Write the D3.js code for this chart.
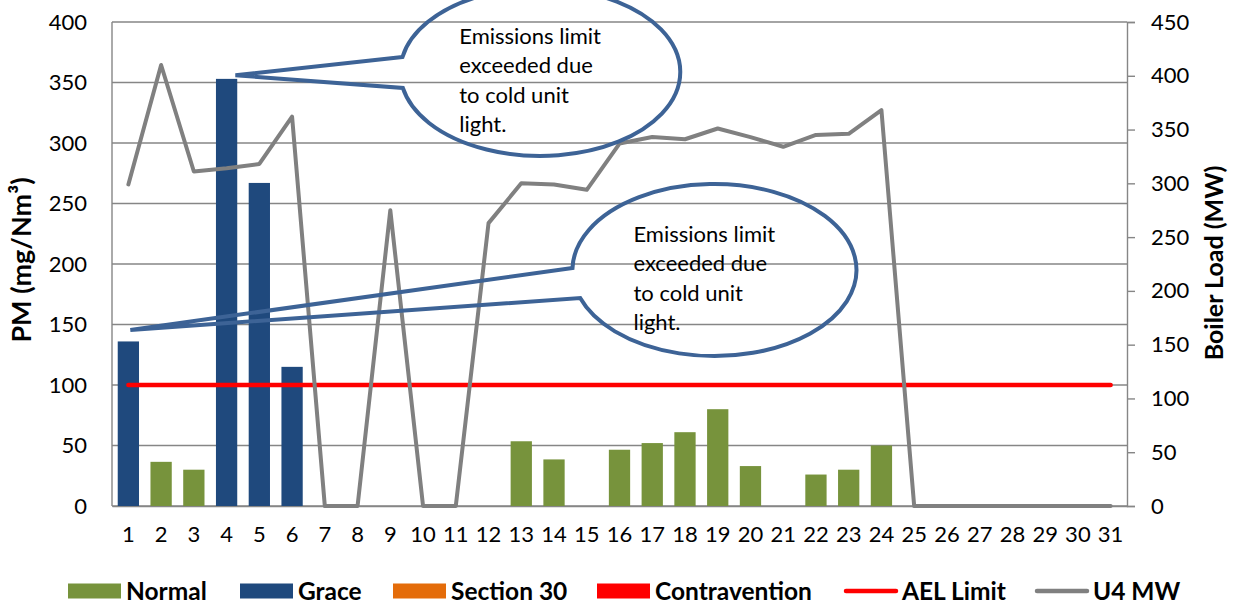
<!DOCTYPE html>
<html>
<head>
<meta charset="utf-8">
<script src="https://cdn.jsdelivr.net/npm/d3@7"></script>
<style>
  body { margin: 0; background: #fff; }
  svg { display: block; font-family: Lato, "Open Sans", sans-serif; }
</style>
</head>
<body>
<svg width="1241" height="605"></svg>
<script>
// ---- data ----
var days = d3.range(1, 32).map(String);
var normal = [0, 36.5, 30, 0, 0, 0, 0, 0, 0, 0, 0, 0, 53.5, 38.5, 0, 46.5, 52, 61, 80, 33, 0, 26, 30, 50, 0, 0, 0, 0, 0, 0, 0];
var grace = [136, 0, 0, 353, 267, 115, 0, 0, 0, 0, 0, 0, 0, 0, 0, 0, 0, 0, 0, 0, 0, 0, 0, 0, 0, 0, 0, 0, 0, 0, 0];
var section30 = days.map(function() { return 0; });
var contravention = days.map(function() { return 0; });
var aelLimit = days.map(function() { return 100; });
var u4mw = [299, 410, 311, 314, 318, 362, 0, 0, 275, 0, 0, 263, 300, 299, 294, 337, 343, 341, 351, 343, 334, 345, 346, 368, 0, 0, 0, 0, 0, 0, 0];
var pmTicks = d3.range(0, 401, 50);
var mwTicks = d3.range(0, 451, 50);
var calloutText = ["Emissions limit", "exceeded due", "to cold unit", "light."];
// callouts: tip + ellipse centre in data units (day, PM)
var callouts = [
  {tip: [4.27, 356], centre: [13.58, 358.7], rx: 140, ry: 84, dy1: -15, dy2: 16},
  {tip: [1.06, 145.5], centre: [18.9, 195], rx: 142, ry: 86, dy1: -2, dy2: 28}
];
var legendItems = [
  {name: "Normal", color: "#77933c", type: "rect", x: 68},
  {name: "Grace", color: "#1f497d", type: "rect", x: 240},
  {name: "Section 30", color: "#e46c0a", type: "rect", x: 393},
  {name: "Contravention", color: "#ff0000", type: "rect", x: 597},
  {name: "AEL Limit", color: "#ff0000", type: "line", x: 844},
  {name: "U4 MW", color: "#808080", type: "line", x: 1035}
];

var svg = d3.select("svg"),
    margin = {top: 22, right: 114, bottom: 99, left: 112},
    width = +svg.attr("width") - margin.left - margin.right,
    height = +svg.attr("height") - margin.top - margin.bottom;

svg.append("rect").attr("width", 1241).attr("height", 605).attr("fill", "#fff");

var g = svg.append("g")
    .attr("transform", "translate(" + margin.left + "," + margin.top + ")");

var xScale = d3.scaleBand().domain(days).range([0, width]).paddingInner(0.35).paddingOuter(0.175);
var half = xScale.bandwidth() / 2;
var xLin = d3.scaleLinear().domain([1, 31])
    .range([xScale("1") + half, xScale("31") + half]);
var yPM = d3.scaleLinear().domain([0, 400]).range([height, 0]);
var yMW = d3.scaleLinear().domain([0, 450]).range([height, 0]);

var gridColor = "#868686";

// gridlines
g.selectAll(".grid")
  .data(pmTicks)
  .enter().append("line")
    .attr("x1", 0).attr("x2", width)
    .attr("y1", function(d) { return yPM(d); })
    .attr("y2", function(d) { return yPM(d); })
    .attr("stroke", gridColor).attr("stroke-width", 1.4);

// left border
g.append("line").attr("x1", 0).attr("x2", 0).attr("y1", 0).attr("y2", height)
  .attr("stroke", gridColor).attr("stroke-width", 1.4);

// left axis
var yAxisL = g.append("g")
    .call(d3.axisLeft(yPM).tickValues(pmTicks).tickSize(0).tickPadding(25));
yAxisL.select(".domain").remove();

// right axis
var yAxisR = g.append("g")
    .attr("transform", "translate(" + width + ",0)")
    .call(d3.axisRight(yMW).tickValues(mwTicks).tickSize(8).tickPadding(16));
yAxisR.select(".domain").attr("stroke", gridColor).attr("stroke-width", 1.4);
yAxisR.selectAll(".tick line").attr("stroke", gridColor).attr("stroke-width", 1.4);

// x axis
var xAxis = g.append("g")
    .attr("transform", "translate(0," + height + ")")
    .call(d3.axisBottom(xScale).tickSize(0).tickPadding(20));
xAxis.select(".domain").attr("stroke", gridColor).attr("stroke-width", 1.4);

svg.selectAll(".tick text")
    .attr("font-family", "Lato, sans-serif")
    .attr("font-size", 22)
    .attr("fill", "#000");

// bars
function drawBars(values, color) {
  g.selectAll(null)
    .data(values.map(function(v, i) { return {day: days[i], v: v}; }).filter(function(d) { return d.v > 0; }))
    .enter().append("rect")
      .attr("x", function(d) { return xScale(d.day); })
      .attr("width", xScale.bandwidth())
      .attr("y", function(d) { return yPM(d.v); })
      .attr("height", function(d) { return height - yPM(d.v); })
      .attr("fill", color);
}
drawBars(normal, "#77933c");
drawBars(grace, "#1f497d");
drawBars(section30, "#e46c0a");
drawBars(contravention, "#ff0000");

// AEL limit
var lineAel = d3.line()
    .x(function(d, i) { return xScale(days[i]) + half; })
    .y(function(d) { return yPM(d); });
g.append("path").datum(aelLimit)
  .attr("d", lineAel)
  .attr("fill", "none").attr("stroke", "#ff0000")
  .attr("stroke-width", 4.5).attr("stroke-linecap", "round");

// U4 MW
var lineMW = d3.line()
    .x(function(d, i) { return xScale(days[i]) + half; })
    .y(function(d) { return yMW(d); });
g.append("path").datum(u4mw)
  .attr("d", lineMW)
  .attr("fill", "none").attr("stroke", "#808080")
  .attr("stroke-width", 4).attr("stroke-linecap", "round").attr("stroke-linejoin", "round");

// callouts
callouts.forEach(function(c) {
  var cx = xLin(c.centre[0]), cy = yPM(c.centre[1]);
  var tx = xLin(c.tip[0]), ty = yPM(c.tip[1]);
  function leftPt(dy) {
    return [cx - c.rx * Math.sqrt(1 - (dy / c.ry) * (dy / c.ry)), cy + dy];
  }
  var p1 = leftPt(c.dy1), p2 = leftPt(c.dy2);
  var d = "M" + p1 + "L" + tx + "," + ty + "L" + p2 +
          "A" + c.rx + "," + c.ry + " 0 1 0 " + p1 + "Z";
  g.append("path")
    .attr("d", d)
    .attr("fill", "none")
    .attr("stroke", "#3d6396")
    .attr("stroke-width", 4)
    .attr("stroke-linejoin", "miter");
  g.append("text")
    .attr("x", cx - 81)
    .attr("y", cy - 28.3)
    .attr("font-size", 22)
    .attr("fill", "#000")
    .selectAll("tspan")
    .data(calloutText)
    .enter().append("tspan")
      .attr("x", cx - 81)
      .attr("dy", function(t, i) { return i === 0 ? 0 : 29.5; })
      .text(function(t) { return t; });
});

// axis titles
svg.append("text")
  .attr("transform", "translate(31,260) rotate(-90)")
  .attr("text-anchor", "middle")
  .attr("font-size", 27).attr("font-weight", "bold")
  .text("PM (mg/Nm³)");
svg.append("text")
  .attr("transform", "translate(1223,263) rotate(-90)")
  .attr("text-anchor", "middle")
  .attr("font-size", 25).attr("font-weight", "bold")
  .text("Boiler Load (MW)");

// legend
var legend = svg.append("g").attr("transform", "translate(0,591)");
legendItems.forEach(function(item) {
  if (item.type === "rect") {
    legend.append("rect").attr("x", item.x).attr("y", -7.5)
      .attr("width", 53).attr("height", 15).attr("fill", item.color);
  } else {
    legend.append("line").attr("x1", item.x + 2).attr("x2", item.x + 52)
      .attr("y1", 0).attr("y2", 0)
      .attr("stroke", item.color).attr("stroke-width", 4.5).attr("stroke-linecap", "round");
  }
  legend.append("text")
    .attr("x", item.x + 58).attr("y", 9)
    .attr("font-size", 24.5).attr("font-weight", "bold")
    .text(item.name);
});
</script>
</body>
</html>
